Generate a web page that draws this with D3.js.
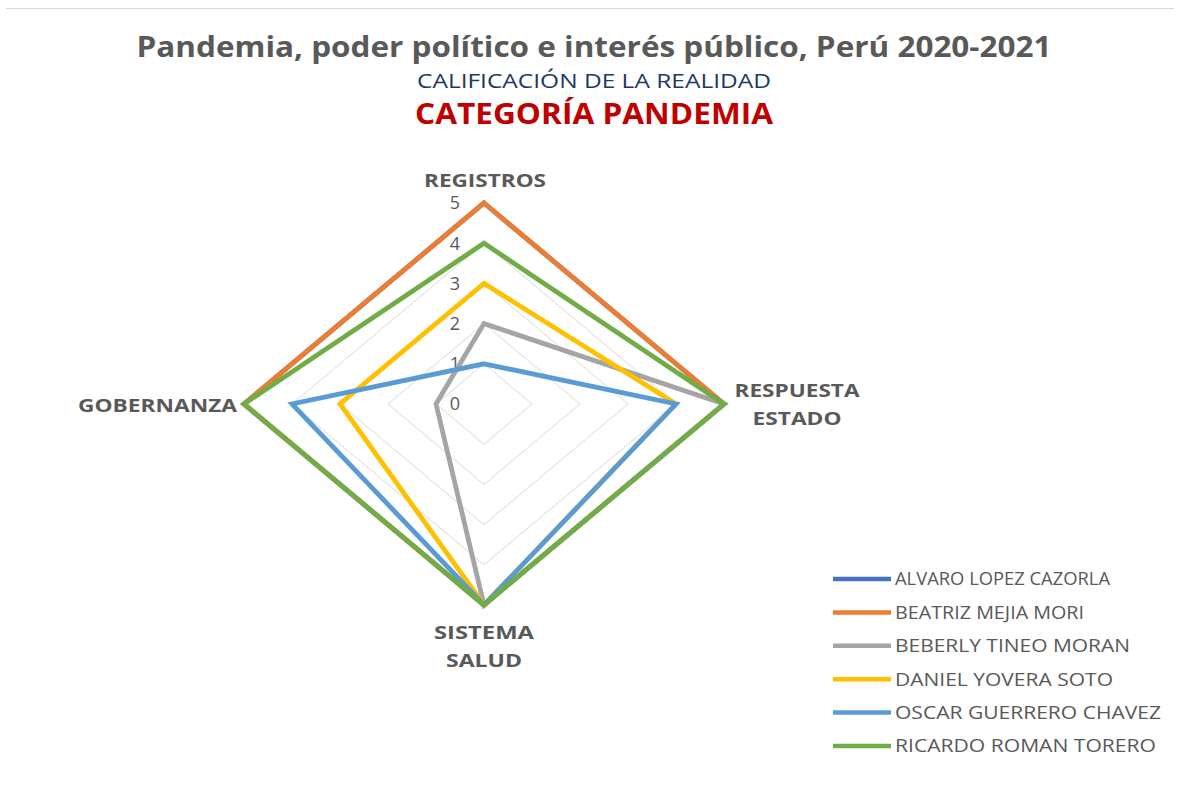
<!DOCTYPE html>
<html>
<head>
<meta charset="utf-8">
<script src="https://cdn.jsdelivr.net/npm/d3@7"></script>
<style>
  html, body { margin: 0; padding: 0; background: #fff; }
  svg { display: block; }
  text { font-family: "Open Sans", "Noto Sans", sans-serif; }
</style>
</head>
<body>
<svg id="chart" width="1180" height="792"></svg>
<script>
// Radar axes, clockwise from the top
const axes = [["REGISTROS"], ["RESPUESTA", "ESTADO"], ["SISTEMA", "SALUD"], ["GOBERNANZA"]];
const ticks = [0, 1, 2, 3, 4, 5];

const seriesNames = [
  "ALVARO LOPEZ CAZORLA",
  "BEATRIZ MEJIA MORI",
  "BEBERLY TINEO MORAN",
  "DANIEL YOVERA SOTO",
  "OSCAR GUERRERO CHAVEZ",
  "RICARDO ROMAN TORERO"
];
// Ratings per axis: Registros, Respuesta Estado, Sistema Salud, Gobernanza
const alvaro  = [5, 5, 5, 5];
const beatriz = [5, 5, 5, 5];
const beberly = [2, 5, 5, 1];
const daniel  = [3, 4, 5, 3];
const oscar   = [1, 4, 5, 4];
const ricardo = [4, 5, 5, 5];
const seriesValues = [alvaro, beatriz, beberly, daniel, oscar, ricardo];
const seriesColors = ["#4472C4", "#ED7D31", "#A5A5A5", "#FFC000", "#5B9BD5", "#70AD47"];

const svg = d3.select("#chart");
const cx = 484, cy = 404;
// the plot is wider than tall, so each direction gets its own radius scale
const rx = d3.scaleLinear().domain([0, 5]).range([0, 240]);
const ry = d3.scaleLinear().domain([0, 5]).range([0, 201]);
const angle = d3.scalePoint().domain(d3.range(axes.length)).range([0, 2 * Math.PI * (axes.length - 1) / axes.length]);

const px = (i, v) => cx + Math.sin(angle(i)) * rx(v);
const py = (i, v) => cy - Math.cos(angle(i)) * ry(v);

// text helper: fixed rendered width so the wide lettering fits its box
function label(g, x, y, str, opts) {
  const t = g.append("text").attr("x", x).attr("y", y)
    .attr("text-anchor", opts.anchor || "start")
    .attr("font-size", opts.size).attr("fill", opts.fill)
    .attr("font-weight", opts.bold ? "bold" : "normal")
    .text(str);
  if (opts.dy) t.attr("dy", opts.dy);
  if (opts.width) t.attr("textLength", opts.width).attr("lengthAdjust", "spacingAndGlyphs");
  return t;
}

// frame line at the top
svg.append("line").attr("x1", 6).attr("x2", 1174).attr("y1", 8.5).attr("y2", 8.5)
  .attr("stroke", "#D9D9D9").attr("stroke-width", 1);

// titles
const titles = svg.append("g");
label(titles, 594, 57, "Pandemia, poder político e interés público, Perú 2020-2021",
  { anchor: "middle", size: 28, bold: true, fill: "#595959", width: 915 });
label(titles, 594, 88, "CALIFICACIÓN DE LA REALIDAD",
  { anchor: "middle", size: 19.5, fill: "#203864", width: 354 });
label(titles, 594, 124, "CATEGORÍA PANDEMIA",
  { anchor: "middle", size: 29, bold: true, fill: "#C00000", width: 358 });

// grid rings
const ring = d3.line().curve(d3.curveLinearClosed);
svg.append("g").selectAll("path").data(ticks.filter(t => t > 0)).join("path")
  .attr("d", t => ring(axes.map((_, i) => [px(i, t), py(i, t)])))
  .attr("fill", "none").attr("stroke", "#D9D9D9").attr("stroke-width", 1);

// tick labels along the top axis
svg.append("g").selectAll("text").data(ticks).join("text")
  .attr("x", 455).attr("y", t => py(0, t))
  .attr("dy", "0.36em").attr("text-anchor", "middle")
  .attr("font-size", 18).attr("fill", "#595959")
  .text(t => t);

// series
const radarLine = d3.line().curve(d3.curveLinearClosed);
svg.append("g").selectAll("path").data(seriesValues).join("path")
  .attr("d", vals => radarLine(vals.map((v, i) => [px(i, v), py(i, v)])))
  .attr("fill", "none")
  .attr("stroke", (_, k) => seriesColors[k])
  .attr("stroke-width", 4.8)
  .attr("stroke-linejoin", "miter");

// axis labels
const labelPos = [
  { x: 485, y: 180, anchor: "middle", widths: [122] },
  { x: 797, y: 390, anchor: "middle", widths: [125, 89] },
  { x: 484, y: 632, anchor: "middle", widths: [100, 76] },
  { x: 237, y: 405, anchor: "end", widths: [159] }
];
const lab = svg.append("g");
axes.forEach((lines, i) => {
  const p = labelPos[i];
  lines.forEach((s, j) => {
    label(lab, p.x, p.y + j * 28, s,
      { anchor: p.anchor, size: 18.5, bold: true, fill: "#595959", dy: "0.36em", width: p.widths[j] });
  });
});

// legend
const legendWidths = [215, 189, 235, 218, 266, 261];
const legend = svg.append("g");
const rowY = d3.scalePoint().domain(seriesNames).range([579, 746]);
seriesNames.forEach((name, k) => {
  const row = legend.append("g").attr("transform", `translate(0,${rowY(name)})`);
  row.append("line").attr("x1", 833).attr("x2", 891).attr("y1", 0).attr("y2", 0)
    .attr("stroke", seriesColors[k]).attr("stroke-width", 4.5);
  label(row, 895, 0, name, { size: 17.5, fill: "#595959", dy: "0.36em", width: legendWidths[k] });
});
</script>
</body>
</html>
